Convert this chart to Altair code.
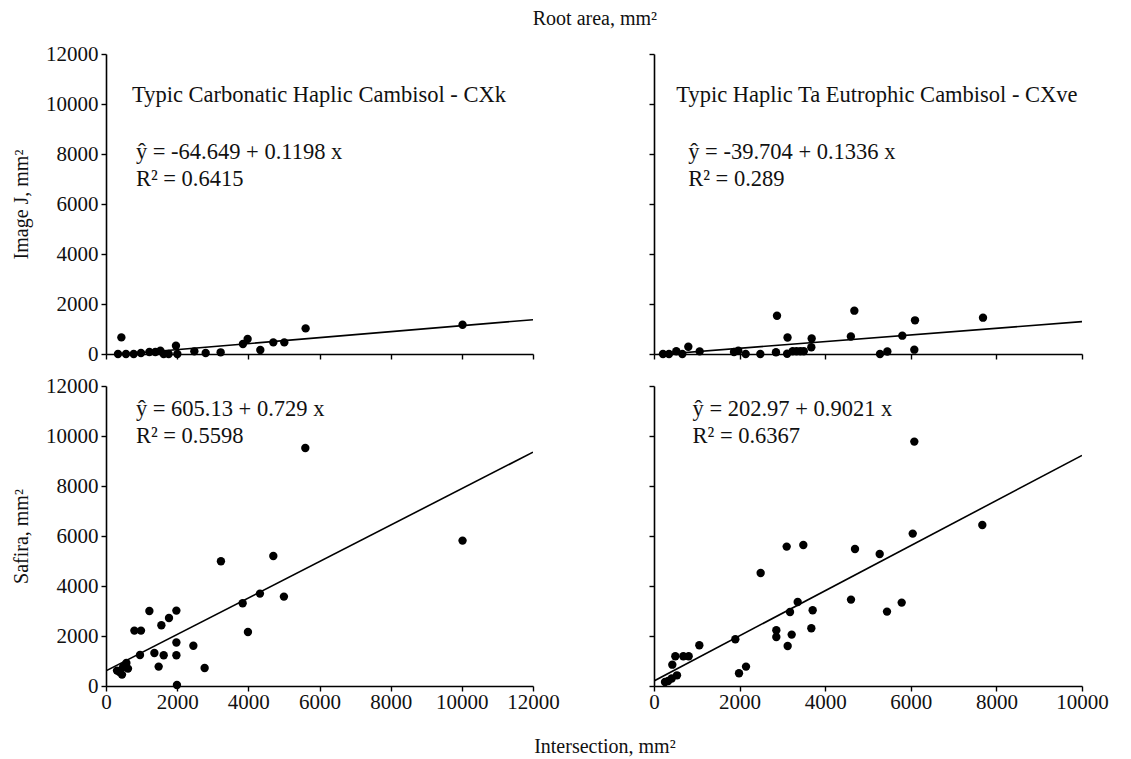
import altair as alt
import pandas as pd

FONT = "Liberation Serif"

# ---- data ----
tl_x = [337, 432, 562, 778, 983, 1219, 1387, 1528, 1621, 1761, 1966, 2005, 2483, 2801, 3222,
        3848, 3980, 4337, 4702, 5011, 5610, 10020]
tl_y = [0, 664, 0, 0, 40, 80, 80, 130, 0, 0, 333, 0, 107, 40, 67,
        400, 600, 160, 464, 464, 1024, 1172]

tr_x = [210, 350, 521, 662, 802, 1067, 1869, 1970, 2142, 2484, 2874, 2850, 3110, 3120, 3240,
        3330, 3420, 3500, 3684, 3676, 4600, 4681, 5280, 5452, 5802, 6082, 6098, 7687]
tr_y = [0, 0, 110, 0, 290, 105, 80, 130, 0, 0, 1530, 70, 10, 660, 110,
        110, 110, 110, 620, 270, 700, 1733, 0, 100, 733, 173, 1347, 1453]

bl_x = [309, 380, 450, 480, 573, 618, 798, 983, 955, 1219, 1360, 1480, 1556, 1621, 1770,
        1978, 1978, 1978, 1994, 2455, 2772, 3230, 3840, 3989, 4326, 4702, 5000, 5601, 10020]
bl_y = [616, 560, 456, 760, 920, 696, 2216, 2216, 1240, 3000, 1320, 776, 2428, 1228, 2720,
        3016, 1740, 1228, 40, 1610, 720, 4988, 3308, 2160, 3696, 5200, 3576, 9520, 5816]

br_x = [257, 330, 413, 537, 428, 498, 685, 810, 1059, 1900, 1986, 2150, 2492, 2858, 2858,
        3100, 3123, 3178, 3217, 3357, 3489, 3676, 3707, 4603, 4696, 5273, 5444, 5787, 6045,
        6082, 7671]
br_y = [160, 200, 300, 427, 853, 1188, 1188, 1188, 1628, 1868, 508, 776, 4520, 2228, 1960,
        5576, 1600, 2960, 2056, 3360, 5640, 2308, 3028, 3456, 5480, 5280, 2976, 3336, 6096,
        9776, 6440]

# regression coefficients (intercept, slope) as printed
coef_tl = (-64.649, 0.1198)
coef_tr = (-39.704, 0.1336)
coef_bl = (605.13, 0.729)
coef_br = (202.97, 0.9021)

eq_tl = ["ŷ = -64.649 + 0.1198 x", "R² = 0.6415"]
eq_tr = ["ŷ = -39.704 + 0.1336 x", "R² = 0.289"]
eq_bl = ["ŷ = 605.13 + 0.729 x", "R² = 0.5598"]
eq_br = ["ŷ = 202.97 + 0.9021 x", "R² = 0.6367"]

soil_left = "Typic Carbonatic Haplic Cambisol - CXk"
soil_right = "Typic Haplic Ta Eutrophic Cambisol - CXve"

x_ticks_left = [0, 2000, 4000, 6000, 8000, 10000, 12000]
x_ticks_right = [0, 2000, 4000, 6000, 8000, 10000]
y_ticks = [0, 2000, 4000, 6000, 8000, 10000, 12000]

TICK_FS = 21
TEXT_FS = 22.5
TITLE_FS = 20


def panel(xs, ys, coef, eq, soil, xmax, xticks, width, x_labels, y_labels, y_title,
          soil_pos, eq_pos):
    pts = pd.DataFrame({"x": xs, "y": ys})
    xa = alt.Axis(values=xticks, labels=x_labels, title=None, format="d",
                  ticks=True, grid=False, labelOverlap=False, labelFlush=False,
                  labelPadding=0)
    ya = alt.Axis(values=y_ticks, labels=y_labels, title=y_title, format="d",
                  grid=False, titlePadding=14, labelOverlap=False, labelFlush=False)
    xsc = alt.Scale(domain=[0, xmax], nice=False, zero=True)
    ysc = alt.Scale(domain=[0, 12000], nice=False)
    points = alt.Chart(pts).mark_circle(size=70, color="black", opacity=1).encode(
        x=alt.X("x:Q", scale=xsc, axis=xa),
        y=alt.Y("y:Q", scale=ysc, axis=ya),
    )
    a, b = coef
    ln = pd.DataFrame({"x": [0, xmax], "y": [a, a + b * xmax]})
    line = alt.Chart(ln).mark_line(color="black", strokeWidth=1.6, clip=True).encode(
        x=alt.X("x:Q", scale=xsc), y=alt.Y("y:Q", scale=ysc)
    )
    rows = []
    if soil is not None:
        rows.append({"x": soil_pos[0], "y": soil_pos[1], "t": soil})
    rows.append({"x": eq_pos[0], "y": eq_pos[1], "t": eq[0]})
    rows.append({"x": eq_pos[0], "y": eq_pos[1] - 1100, "t": eq[1]})
    txt = alt.Chart(pd.DataFrame(rows)).mark_text(
        align="left", baseline="middle", font=FONT, fontSize=TEXT_FS, color="#111"
    ).encode(x=alt.X("x:Q", scale=xsc), y=alt.Y("y:Q", scale=ysc), text="t:N")
    return alt.layer(line, points, txt).properties(width=width, height=300)


tl = panel(tl_x, tl_y, coef_tl, eq_tl, soil_left, 12000, x_ticks_left, 427,
           False, True, "Image J, mm²", (730, 10350), (840, 8100))
tr = panel(tr_x, tr_y, coef_tr, eq_tr, soil_right, 10000, x_ticks_right, 428,
           False, False, None, (520, 10350), (800, 8100))
bl = panel(bl_x, bl_y, coef_bl, eq_bl, None, 12000, x_ticks_left, 427,
           True, True, "Safira, mm²", None, (840, 11100))
br = panel(br_x, br_y, coef_br, eq_br, None, 10000, x_ticks_right, 428,
           True, False, None, None, (900, 11100))

grid = alt.concat(tl, tr, bl, br, columns=2, bounds="flush").properties(
    spacing={"row": 32, "column": 121})
inner = alt.vconcat(grid, title=alt.TitleParams(
    "Root area, mm²", anchor="middle", font=FONT, fontSize=TITLE_FS, fontWeight="normal",
    color="#111", offset=14, dx=35))
chart = alt.vconcat(inner, title=alt.TitleParams(
    "Intersection, mm²", orient="bottom", anchor="middle", font=FONT, fontSize=TITLE_FS,
    fontWeight="normal", color="#111", offset=25, dx=45)
).configure_view(stroke=None).configure_axis(
    domainColor="black", domainWidth=1.6, tickColor="black", tickWidth=1.4, tickSize=5,
    labelFont=FONT, labelFontSize=TICK_FS, labelColor="#111", labelPadding=3,
    titleFont=FONT, titleFontSize=TITLE_FS, titleFontWeight="normal", titleColor="#111",
).properties(padding={"left": 3, "top": 1, "right": 5, "bottom": 5})

chart.save("out.html", embed_options={"renderer": "svg", "actions": False})
